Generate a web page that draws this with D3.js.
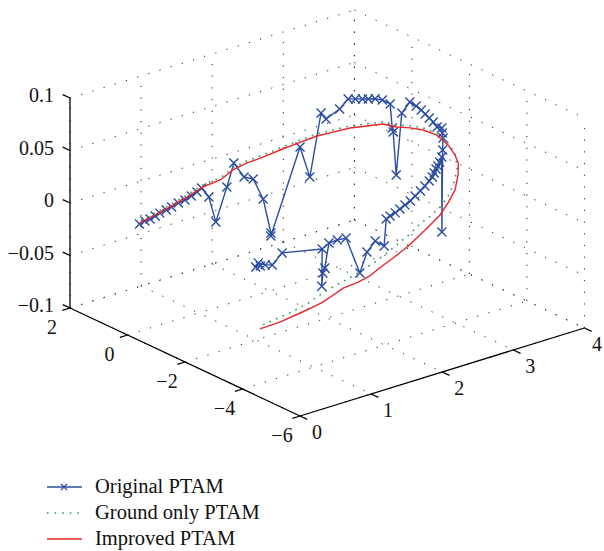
<!DOCTYPE html>
<html><head><meta charset="utf-8">
<script src="https://cdn.jsdelivr.net/npm/d3@7/dist/d3.min.js"></script>
<style>body{margin:0;background:#fff} svg{display:block}</style>
</head><body>
<svg id="c" width="604" height="551"></svg>
<script>
// ---------- data ----------
const xTicks = [0, 1, 2, 3, 4];
const yTicks = [2, 0, -2, -4, -6];
const zTicks = [-0.1, -0.05, 0, 0.05, 0.1];
const xTickLabels = ["0", "1", "2", "3", "4"];
const yTickLabels = ["2", "0", "−2", "−4", "−6"];
const zTickLabels = ["−0.1", "−0.05", "0", "0.05", "0.1"];
const seriesNames = ["Original PTAM", "Ground only PTAM", "Improved PTAM"];

const origX = [0.21,0.31,0.39,0.47,0.56,0.67,0.75,0.88,0.99,1.10,1.22,1.33,1.38,1.46,1.62,1.73,1.85,1.95,2.09,2.11,2.13,2.77,2.88,3.09,3.12,3.32,3.48,3.54,3.60,3.65,3.71,3.75,3.84,3.86,3.87,3.84,3.87,3.85,3.87,3.88,3.88,3.88,3.88,3.86,3.92,3.89,3.88,3.85,3.86,3.83,3.76,3.71,3.68,3.63,3.58,3.52,3.43,3.34,3.24,3.15,3.07,2.99,2.92,2.86,2.81,2.74,2.66,2.58,2.52,2.37,2.30,2.23,2.18,2.15,2.15,2.16,1.75,1.64,1.58,1.52,1.48,1.52];
const origY = [0.10,0.16,0.18,0.20,0.26,0.31,0.32,0.41,0.45,0.50,0.60,0.71,0.58,0.54,0.55,0.58,0.52,0.45,0.45,0.23,0.28,0.85,0.78,0.91,0.81,0.83,0.93,0.83,0.73,0.65,0.56,0.41,0.36,0.34,0.33,0.15,0.03,-0.30,-0.47,-0.62,-0.76,-0.90,-1.04,-1.22,-1.24,-1.33,-1.38,-1.44,-1.39,-1.46,-1.56,-1.62,-1.63,-1.69,-1.75,-1.79,-1.86,-1.93,-1.99,-2.05,-2.06,-2.08,-2.09,-2.06,-2.05,-2.15,-2.04,-1.95,-1.85,-1.74,-1.61,-1.49,-1.47,-1.48,-1.44,-1.43,-1.05,-0.98,-0.88,-0.79,-0.80,-0.86];
const origZ = [0,0,0,0.001,0.001,0.001,0.002,0.002,0.002,0.003,0.003,0.003,-0.005,-0.03,0,0.02,0.005,0.002,-0.02,-0.05,-0.054,0.01,-0.02,0.035,0.03,0.035,0.04,0.04,0.04,0.04,0.04,0.04,0.035,0.012,0.008,-0.03,0.03,0.045,0.043,0.041,0.039,0.037,0.035,0.033,0.031,0.028,0.024,0.014,-0.065,0.008,0.006,0.004,0.002,0,-0.002,-0.004,-0.006,-0.008,-0.010,-0.012,-0.014,-0.016,-0.018,-0.020,-0.022,-0.045,-0.04,-0.05,-0.07,-0.035,-0.037,-0.04,-0.063,-0.067,-0.08,-0.045,-0.045,-0.055,-0.055,-0.053,-0.056,-0.055];

const groundX = [0.29,0.54,0.78,1.03,1.19,1.37,1.57,1.74,1.94,2.10,2.29,2.49,2.66,2.85,3.01,3.18,3.37,3.60,3.80,3.96,3.95,3.92,3.82,3.71,3.59,3.51,3.34,3.18,2.98,2.81,2.56,2.34,2.13,1.94,1.75,1.52,1.30,1.02,0.74,0.23];
const groundY = [-4.00,-3.90,-3.85,-3.74,-3.64,-3.57,-3.52,-3.53,-3.49,-3.46,-3.41,-3.32,-3.24,-3.12,-3.09,-3.01,-2.82,-2.46,-2.07,-1.60,-1.38,-1.07,-0.84,-0.66,-0.48,-0.20,-0.07,0.12,0.22,0.36,0.40,0.48,0.54,0.64,0.66,0.53,0.60,0.46,0.35,0.14];
const groundZ = [-0.045,-0.045,-0.044,-0.043,-0.042,-0.040,-0.038,-0.035,-0.032,-0.029,-0.025,-0.021,-0.018,-0.014,-0.010,-0.006,-0.002,0.002,0.006,0.011,0.018,0.024,0.028,0.030,0.031,0.032,0.032,0.031,0.030,0.028,0.026,0.023,0.020,0.017,0.014,0.011,0.008,0.006,0.004,0.002];

const improvedX = [0.19,0.48,0.80,1.03,1.15,1.33,1.50,1.68,1.83,2.00,2.22,2.46,2.65,2.87,3.11,3.32,3.54,3.76,3.90,3.96,3.95,3.92,3.82,3.71,3.59,3.51,3.34,3.18,2.98,2.81,2.56,2.34,2.13,1.94,1.75,1.52,1.30,1.02,0.74,0.23];
const improvedY = [-4.14,-4.11,-4.03,-3.97,-3.95,-3.87,-3.79,-3.87,-3.90,-3.82,-3.75,-3.64,-3.51,-3.36,-3.18,-2.94,-2.64,-2.20,-1.86,-1.60,-1.38,-1.07,-0.84,-0.66,-0.48,-0.20,-0.07,0.12,0.22,0.36,0.40,0.48,0.54,0.64,0.66,0.53,0.60,0.46,0.35,0.14];
const improvedZ = [-0.045,-0.045,-0.044,-0.043,-0.042,-0.040,-0.038,-0.035,-0.032,-0.029,-0.025,-0.021,-0.018,-0.014,-0.010,-0.006,-0.002,0.002,0.006,0.009,0.016,0.022,0.026,0.028,0.029,0.030,0.030,0.029,0.028,0.026,0.024,0.021,0.018,0.015,0.012,0.009,0.006,0.004,0.002,0.000];

// ---------- layout ----------
const box = { ox: 70, oy: 308, ex: [284.4, -88], ey: [230, 108], ez: [0, -210] };
const colors = { orig: "#2b4ca2", ground: "#2f9a5a", improved: "#e8262b" };
const font = "'Liberation Serif', 'DejaVu Serif', serif";

const xs = d3.scaleLinear().domain([0, 4]).range([0, 1]);
const ys = d3.scaleLinear().domain([2, -6]).range([0, 1]);
const zs = d3.scaleLinear().domain([-0.1, 0.1]).range([0, 1]);
function P(x, y, z) {
  const a = xs(x), b = ys(y), c = zs(z);
  return [box.ox + a * box.ex[0] + b * box.ey[0] + c * box.ez[0],
          box.oy + a * box.ex[1] + b * box.ey[1] + c * box.ez[1]];
}
function unit(v) { const l = Math.hypot(v[0], v[1]); return [v[0] / l, v[1] / l]; }
const ux = unit(box.ex), uy = unit(box.ey);

const svg = d3.select("#c");
const x0 = xs.domain()[0], x1 = xs.domain()[1];
const y0 = ys.domain()[0], y1 = ys.domain()[1];
const z0 = zs.domain()[0], z1 = zs.domain()[1];

// ---------- grid ----------
const gridSegs = [];
xTicks.forEach(t => { gridSegs.push([P(t, y0, z0), P(t, y0, z1)]); gridSegs.push([P(t, y0, z0), P(t, y1, z0)]); });
yTicks.forEach(t => { gridSegs.push([P(x1, t, z0), P(x1, t, z1)]); gridSegs.push([P(x0, t, z0), P(x1, t, z0)]); });
zTicks.forEach(t => { gridSegs.push([P(x0, y0, t), P(x1, y0, t)]); gridSegs.push([P(x1, y0, t), P(x1, y1, t)]); });
svg.append("g").selectAll("line").data(gridSegs).join("line")
  .attr("x1", d => d[0][0]).attr("y1", d => d[0][1])
  .attr("x2", d => d[1][0]).attr("y2", d => d[1][1])
  .attr("stroke", "#222").attr("stroke-width", 1)
  .attr("stroke-dasharray", "1.2,10.5");

// ---------- axes ----------
const axisG = svg.append("g").attr("stroke", "#000").attr("stroke-width", 1.3);
[[P(x0, y0, z0), P(x0, y0, z1)], [P(x0, y0, z0), P(x0, y1, z0)], [P(x0, y1, z0), P(x1, y1, z0)]]
  .forEach(s => axisG.append("line").attr("x1", s[0][0]).attr("y1", s[0][1]).attr("x2", s[1][0]).attr("y2", s[1][1]));
const TL = 8;
zTicks.forEach(t => { const p = P(x0, y0, t); axisG.append("line").attr("x1", p[0]).attr("y1", p[1]).attr("x2", p[0] - uy[0] * TL).attr("y2", p[1] - uy[1] * TL); });
yTicks.forEach(t => { const p = P(x0, t, z0); axisG.append("line").attr("x1", p[0]).attr("y1", p[1]).attr("x2", p[0] - ux[0] * TL).attr("y2", p[1] - ux[1] * TL); });
xTicks.forEach(t => { const p = P(t, y1, z0); axisG.append("line").attr("x1", p[0]).attr("y1", p[1]).attr("x2", p[0] + uy[0] * TL).attr("y2", p[1] + uy[1] * TL); });

const labG = svg.append("g").attr("font-family", font).attr("font-size", 20).attr("fill", "#111");
zTicks.forEach((t, i) => { const p = P(x0, y0, t); labG.append("text").attr("x", p[0] - 16).attr("y", p[1] - 3).attr("dy", "0.35em").attr("text-anchor", "end").text(zTickLabels[i]); });
yTicks.forEach((t, i) => { const p = P(x0, t, z0); labG.append("text").attr("x", p[0] - 18).attr("y", p[1] + 19).attr("dy", "0.35em").attr("text-anchor", "middle").text(yTickLabels[i]); });
xTicks.forEach((t, i) => { const p = P(t, y1, z0); labG.append("text").attr("x", Math.min(p[0] + 17, 597)).attr("y", p[1] + 16).attr("dy", "0.35em").attr("text-anchor", "middle").text(xTickLabels[i]); });

// ---------- series ----------
const line = d3.line().x(d => d[0]).y(d => d[1]);
const origPts = origX.map((v, i) => P(v, origY[i], origZ[i]));
const groundPts = groundX.map((v, i) => P(v, groundY[i], groundZ[i]));
const impPts = improvedX.map((v, i) => P(v, improvedY[i], improvedZ[i]));

svg.append("path").attr("d", line(origPts)).attr("fill", "none").attr("stroke", colors.orig).attr("stroke-width", 1.4).attr("stroke-linejoin", "round");
const M = 4.5;
svg.append("g").selectAll("path").data(origPts).join("path")
  .attr("d", d => `M${d[0] - M},${d[1] - M}L${d[0] + M},${d[1] + M}M${d[0] - M},${d[1] + M}L${d[0] + M},${d[1] - M}`)
  .attr("stroke", colors.orig).attr("stroke-width", 1.4).attr("fill", "none");
svg.append("path").attr("d", line(groundPts)).attr("fill", "none").attr("stroke", colors.ground).attr("stroke-width", 1.6).attr("stroke-dasharray", "1.6,5.5");
svg.append("path").attr("d", line(impPts)).attr("fill", "none").attr("stroke", colors.improved).attr("stroke-width", 1.4).attr("stroke-linejoin", "round");

// ---------- legend ----------
const leg = svg.append("g");
const legY = [487, 513, 539];
const legCols = [colors.orig, colors.ground, colors.improved];
seriesNames.forEach((n, i) => {
  const l = leg.append("line").attr("x1", 47).attr("x2", 82).attr("y1", legY[i]).attr("y2", legY[i])
    .attr("stroke", legCols[i]).attr("stroke-width", 1.4);
  if (i === 1) l.attr("stroke-dasharray", "1.6,6").attr("stroke-width", 1.6);
  if (i === 0) leg.append("path").attr("d", `M61,${legY[i] - 3}L67,${legY[i] + 3}M61,${legY[i] + 3}L67,${legY[i] - 3}`).attr("stroke", legCols[i]).attr("stroke-width", 1.3);
  leg.append("text").attr("x", 95).attr("y", legY[i] + 6).attr("font-family", font).attr("font-size", 20.5).attr("fill", "#111").text(n);
});
</script>
</body></html>
